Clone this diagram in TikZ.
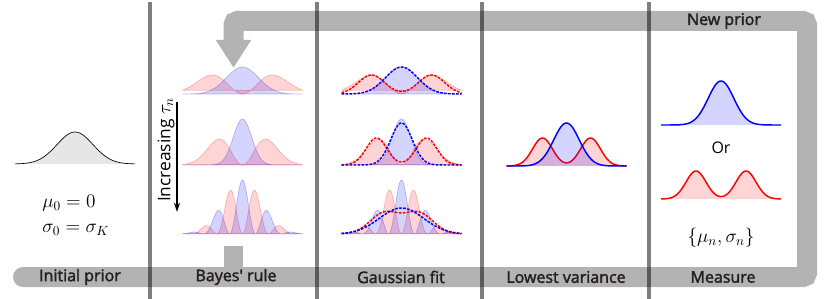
\documentclass[tikz,border=0pt]{standalone}
\usepackage{fontspec}
\setmainfont{Open Sans}
\newfontfamily\lblfont{Open Sans}[FakeBold=2, Ligatures=TeXOff]
\usepackage{tikz}
\usetikzlibrary{arrows.meta}
\definecolor{bandgray}{RGB}{179,179,179}
\definecolor{labeltext}{RGB}{35,31,32}
\definecolor{priorgray}{RGB}{230,230,230}

\begin{document}
\begin{tikzpicture}[x=0.75pt, y=-0.75pt,
  band/.style={draw=bandgray, line width=15pt, line cap=round, rounded corners=3pt},
  divider/.style={draw=black, draw opacity=0.5, line width=2.6pt},
  steplbl/.style={text=labeltext, font=\large\lblfont, inner sep=0pt},
  bluefill/.style={fill=blue, fill opacity=0.17, draw=blue, draw opacity=0.25, line width=0.5pt},
  redfill/.style={fill=red, fill opacity=0.17, draw=red, draw opacity=0.25, line width=0.5pt},
  bluefit/.style={draw=blue, line width=1.1pt, dash pattern=on 2pt off 1pt},
  redfit/.style={draw=red, line width=1.1pt, dash pattern=on 2pt off 1pt},
  blueline/.style={fill=blue, fill opacity=0.17, draw=blue, line width=1.1pt},
  redline/.style={fill=red, fill opacity=0.17, draw=red, line width=1.1pt}]

\useasboundingbox (0,0) rectangle (830,299);

% Feedback band
\coordinate (bandstart) at (23,277);
\coordinate (bandbr) at (807,277);
\coordinate (bandtr) at (807,21);
\coordinate (bandtl) at (233.5,21);
\coordinate (bandtip) at (233.5,68);
\draw[band, -{Triangle[width=25pt,length=21pt]}] (bandstart) -- (bandbr) -- (bandtr) -- (bandtl) -- (bandtip);
\fill[bandgray] (224,246) rectangle (243,268);

% Column dividers
\foreach \xs in {150,317,482,649}
  \draw[divider] (\xs,2) -- (\xs,299);

% Step labels
\node[steplbl] (initlbl) at (80,277) {Initial prior};
\node[steplbl] (bayeslbl) at (236,277) {Bayes' rule};
\node[steplbl] (fitlbl) at (401,277) {Gaussian fit};
\node[steplbl] (varlbl) at (566,277) {Lowest variance};
\node[steplbl] (measlbl) at (723,277) {Measure};
\node[steplbl] (newpriorlbl) at (724,21) {New prior};

% Initial prior
\begin{scope}[shift={(75,164)}]
  \draw[fill=priorgray, line width=0.5pt] plot[domain=-60:60, samples=81] (\x,{-32*exp(-(\x)^2/648)});
\end{scope}
\node[anchor=west, inner sep=0pt] (mu0) at (42,203) {\Large $\mu_0 = 0$};
\node[anchor=west, inner sep=0pt] (sigma0) at (42,230) {\Large $\sigma_0 = \sigma_K$};

% Increasing tau
\node[rotate=90, font=\fontsize{13}{15}\selectfont] (taulbl) at (166,150) {Increasing {\Large$\tau_n$}};
\coordinate (tautop) at (177,102);
\coordinate (taubot) at (177,212);
\draw[-{Stealth[length=7pt,width=4.5pt]}, line width=1.1pt] (tautop) -- (taubot);

% Posteriors, Bayes' rule and Gaussian fit
\foreach \cx in {242.5,401.5} {
  \begin{scope}[shift={(\cx,94)}]
    \draw[redfill] plot[domain=-60:60, samples=121] (\x,{-0.0574*(\x)^2*exp(-(\x)^2/900)}) -- cycle;
    \draw[bluefill] plot[domain=-60:60, samples=121] (\x,{-27*exp(-(\x)^2/512)}) -- cycle;
  \end{scope}
  \begin{scope}[shift={(\cx,165)}]
    \draw[redfill] plot[domain=-60:60, samples=121] (\x,{-0.1336*(\x)^2*exp(-(\x)^2/529)}) -- cycle;
    \draw[bluefill] plot[domain=-60:60, samples=121] (\x,{-46*exp(-(\x)^2/170)}) -- cycle;
  \end{scope}
  \begin{scope}[shift={(\cx,234)}]
    \draw[redfill] plot[domain=-60:60, samples=161] (\x,{-54*exp(-(\x)^2/752)*(sin(6.92*(\x)))^2}) -- cycle;
    \draw[bluefill] plot[domain=-60:60, samples=161] (\x,{-54*exp(-(\x)^2/752)*(cos(6.92*(\x)))^2}) -- cycle;
  \end{scope}
}

% Gaussian fits
\begin{scope}[shift={(401.5,94)}]
  \draw[redfit] plot[domain=-60:60, samples=121] (\x,{-19*(exp(-(\x-30)^2/338)+exp(-(\x+30)^2/338))});
  \draw[bluefit] plot[domain=-60:60, samples=121] (\x,{-27*exp(-(\x)^2/512)});
\end{scope}
\begin{scope}[shift={(401.5,165)}]
  \draw[redfit] plot[domain=-60:60, samples=121] (\x,{-27*(exp(-(\x-25)^2/216)+exp(-(\x+25)^2/216))});
  \draw[bluefit] plot[domain=-60:60, samples=121] (\x,{-42*exp(-(\x)^2/232)});
\end{scope}
\begin{scope}[shift={(401.5,234)}]
  \draw[redfit] plot[domain=-60:60, samples=121] (\x,{-21*(exp(-(\x-17)^2/420)+exp(-(\x+17)^2/420))});
  \draw[bluefit] plot[domain=-60:60, samples=121] (\x,{-26*exp(-(\x)^2/968)});
\end{scope}

% Lowest variance
\begin{scope}[shift={(566.5,166)}]
  \draw[redline] plot[domain=-60:60, samples=121] (\x,{-28*(exp(-(\x-24)^2/200)+exp(-(\x+24)^2/200))});
  \draw[blueline] plot[domain=-60:60, samples=121] (\x,{-43*exp(-(\x)^2/330)});
\end{scope}

% Measure
\begin{scope}[shift={(721,125)}]
  \draw[blueline] plot[domain=-60:60, samples=121] (\x,{-44*exp(-(\x)^2/330)});
\end{scope}
\node[font=\large] (ortext) at (721,148) {Or};
\begin{scope}[shift={(721,199)}]
  \draw[redline] plot[domain=-60:60, samples=121] (\x,{-28*(exp(-(\x-25)^2/200)+exp(-(\x+25)^2/200))});
\end{scope}
\node (measout) at (721,238) {\Large $\{\mu_n,\sigma_n\}$};
\end{tikzpicture}
\end{document}
